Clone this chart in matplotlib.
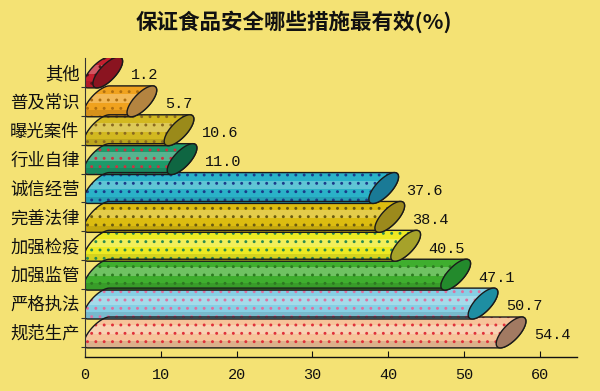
import numpy as np
import matplotlib
matplotlib.use('Agg')
import matplotlib.pyplot as plt
from matplotlib.patches import Polygon, Rectangle

plt.rcParams['font.family'] = ['Noto Sans CJK SC', 'DejaVu Sans']
plt.rcParams['hatch.linewidth'] = 0.9

# data, bottom to top
categories = ['规范生产', '严格执法', '加强监管', '加强检疫', '完善法律',
              '诚信经营', '行业自律', '曝光案件', '普及常识', '其他']
values = [54.4, 50.7, 47.1, 40.5, 38.4, 37.6, 11.0, 10.6, 5.7, 1.2]
body_colors = ['#f6c49a', '#86cfe4', '#3fae2e', '#eeea22', '#dcbc10',
               '#2ab2c8', '#1e9a6a', '#d2b820', '#f0a21e', '#c41f2e']
cap_colors = ['#a27a62', '#1e8ea2', '#238a2c', '#a6a22a', '#9c8a1c',
              '#1a7a96', '#0f6642', '#9a8a1a', '#b48440', '#8a1420']
dot_colors = ['#e0303a', '#e070a0', '#2c7a20', '#2a8a50', '#6a5a10',
              '#1a3a8a', '#d03040', '#8a6a20', '#b07010', '#601018']

bg = '#f4e274'
dx = 3.6          # depth of the cylinder in x units
px_x = 7.58       # pixels per x unit
px_y = 29.0       # pixels per band
minor_px = 8.0    # half width of the end face, pixels


def face_vectors():
    mx, my = dx / 2, 0.5
    vx, vy = 14.5, 13.6
    norm = np.hypot(vx, vy)
    return mx, my, vx / norm * minor_px / px_x, -vy / norm * minor_px / px_y


def ellipse_pts(cx, cy, n=80):
    # slanted end face of the cylinder
    mx, my, mnx, mny = face_vectors()
    t = np.linspace(0, 2 * np.pi, n)
    return cx + np.cos(t) * mx + np.sin(t) * mnx, cy + np.cos(t) * my + np.sin(t) * mny


def body_pts(v, yc, n=80):
    mx, my, mnx, mny = face_vectors()
    t_top = np.arctan2(mny, my)
    ta = np.linspace(t_top, t_top + np.pi, n)
    tb = np.linspace(t_top + np.pi, t_top + 2 * np.pi, n)
    ax_ = dx / 2 + np.cos(ta) * mx + np.sin(ta) * mnx
    ay_ = yc + np.cos(ta) * my + np.sin(ta) * mny
    bx_ = dx / 2 + np.cos(tb) * mx + np.sin(tb) * mnx
    by_ = yc + np.cos(tb) * my + np.sin(tb) * mny
    if ax_.mean() < bx_.mean():
        xs = np.concatenate([ax_, bx_ + v])
        ys = np.concatenate([ay_, by_])
    else:
        xs = np.concatenate([bx_, ax_ + v])
        ys = np.concatenate([by_, ay_])
    return np.column_stack([xs, ys])


fig = plt.figure(figsize=(6, 3.91), dpi=100, facecolor=bg)
ax = fig.add_axes([85 / 600, 34 / 391, 492 / 600, 299 / 391])
ax.set_facecolor(bg)
ax.set_xlim(0, 64.9)
ax.set_ylim(-0.85, 9.5)

for i, (v, bc, cc, dc) in enumerate(zip(values, body_colors, cap_colors, dot_colors)):
    pts = body_pts(v, i)
    body = Polygon(pts, closed=True, facecolor=bc, edgecolor='none', zorder=2)
    ax.add_patch(body)
    # highlight and shade bands on the cylinder
    hl = Rectangle((0, i - 0.05), v + dx, 0.3, facecolor='white', alpha=0.25,
                   edgecolor='none', zorder=2.1)
    hl.set_clip_path(body)
    ax.add_patch(hl)
    sh = Rectangle((0, i - 0.6), v + dx, 0.3, facecolor='black', alpha=0.1,
                   edgecolor='none', zorder=2.1)
    sh.set_clip_path(body)
    ax.add_patch(sh)
    dots = Polygon(pts, closed=True, facecolor='none', edgecolor=dc,
                   hatch='..', linewidth=0, zorder=2.2)
    ax.add_patch(dots)
    ax.add_patch(Polygon(pts, closed=True, facecolor='none', edgecolor='#1a1a1a',
                         linewidth=1.0, zorder=2.3))
    ex, ey = ellipse_pts(v + dx / 2, i)
    ax.fill(ex, ey, facecolor=cc, edgecolor='#1a1a1a', linewidth=1.0, zorder=2.4)
    ax.text(v + dx + 1.2, i - 0.1, '%.1f' % v, family='Liberation Mono',
            fontsize=11, va='center', ha='left', color='#111111', zorder=3)

ax.set_yticks([i - 0.5 for i in range(10)])
ax.set_yticklabels([])
for i, c in enumerate(categories):
    ax.text(-0.7, i - 0.05, c, fontsize=12.5, fontweight='medium', ha='right',
            va='center', color='#111111')
ax.tick_params(axis='y', length=3, direction='out', color='#333333')

ax.set_xticks(range(0, 61, 10))
ax.set_xticklabels([str(t) for t in range(0, 61, 10)], family='Liberation Mono',
                   fontsize=11, color='#111111')
ax.tick_params(axis='x', length=4, direction='in', pad=8, color='#111111')

for s in ['top', 'right']:
    ax.spines[s].set_visible(False)
ax.spines['left'].set_color('#333333')
ax.spines['left'].set_linewidth(0.8)
ax.spines['bottom'].set_color('#111111')
ax.spines['bottom'].set_linewidth(1.0)

fig.text(0.49, 0.945, '保证食品安全哪些措施最有效(%)', fontsize=15.5, fontweight='bold',
         ha='center', va='center', color='#111111')

fig.savefig('out.png', dpi=100, facecolor=bg)
